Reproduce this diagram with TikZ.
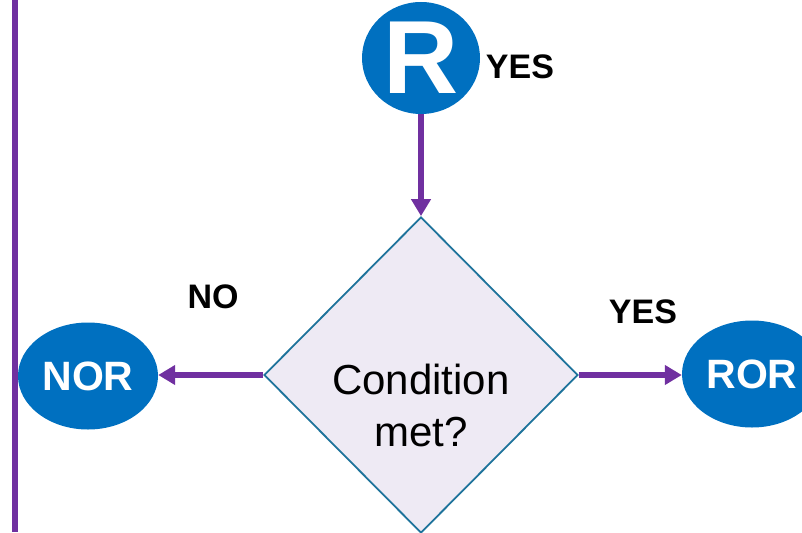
\documentclass[tikz,border=0pt]{standalone}
\usepackage{fontspec}
\setmainfont{Liberation Sans}
\usetikzlibrary{shapes.geometric,arrows.meta}
\definecolor{ballblue}{RGB}{0,112,192}
\definecolor{flowpurple}{RGB}{112,48,160}
\definecolor{condfill}{RGB}{238,234,244}
\definecolor{condline}{RGB}{30,115,155}

\begin{document}
\begin{tikzpicture}[x=1pt,y=-1pt,
  ball/.style={ellipse,fill=ballblue,text=white,inner sep=0pt,
    font=\bfseries\fontsize{41}{41}\selectfont},
  flow/.style={flowpurple,line width=5.5pt,-{Triangle[length=17pt,width=19pt]}},
  tag/.style={font=\bfseries\fontsize{34}{34}\selectfont}]
\useasboundingbox (0,0) rectangle (802,532);
\draw[flowpurple,line width=6pt] (15,0) -- (15,532);
%%
\node[ball,minimum width=118pt,minimum height=112pt,
  font=\bfseries\fontsize{104}{104}\selectfont] (rball) at (421,58) {R};
\node[tag] (rtag) at (520,67) {YES};
%%
\node[diamond,shape aspect=1,fill=condfill,draw=condline,line width=1.8pt,
  inner sep=0pt,minimum width=314pt,minimum height=316pt] (cond) at (421,375) {};
\node[align=center,font=\fontsize{42}{52}\selectfont,yshift=-30pt] (condtext) at (cond) {Condition\\met?};
%%
\node[ball,minimum width=140pt,minimum height=107pt] (nor) at (88,376) {NOR};
\node[tag] (notag) at (213,297) {NO};
%%
\node[ball,minimum width=140pt,minimum height=107pt] (ror) at (752,374) {ROR};
\node[tag] (yestag) at (643,312) {YES};
%%
\draw[flow] (rball) -- (cond);
\draw[flow] (cond.west) -- (nor.east |- cond.west);
\draw[flow] (cond.east) -- (ror.west |- cond.east);
\end{tikzpicture}
\end{document}
